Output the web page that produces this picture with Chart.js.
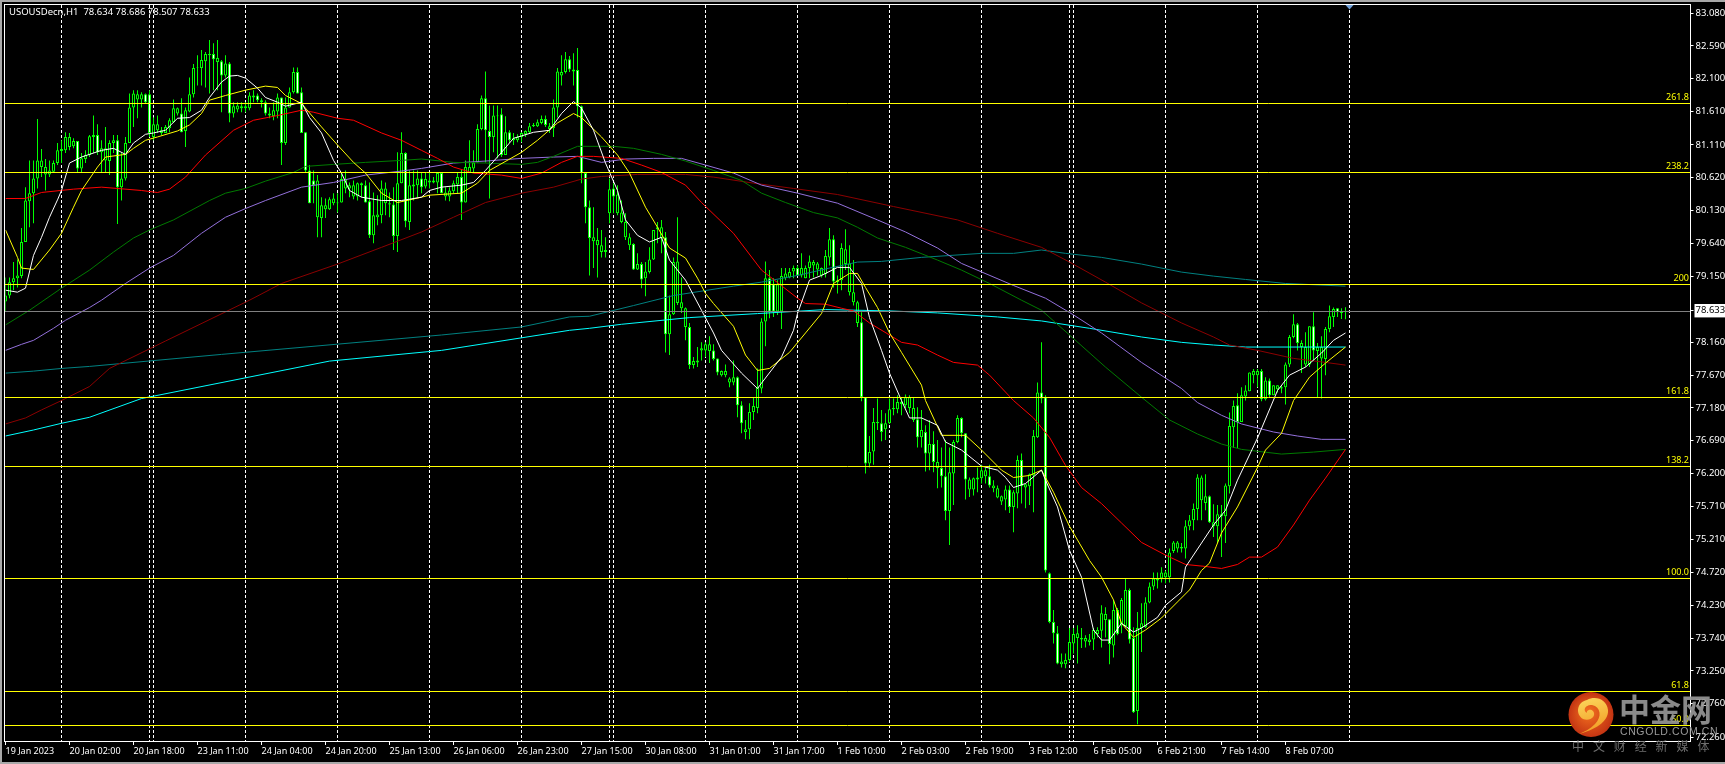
<!DOCTYPE html>
<html><head><meta charset="utf-8">
<style>html,body{margin:0;padding:0;background:#000;overflow:hidden}canvas{display:block}</style>
<script src="https://cdn.jsdelivr.net/npm/chart.js@4"></script>
</head><body><canvas id="c" width="1725" height="764"></canvas>
<script>
const symbolText = "USOUSDecn,H1  78.634 78.686 78.507 78.633";
const timeLabels = ["19 Jan 2023","20 Jan 02:00","20 Jan 18:00","23 Jan 11:00","24 Jan 04:00","24 Jan 20:00","25 Jan 13:00","26 Jan 06:00","26 Jan 23:00","27 Jan 15:00","30 Jan 08:00","31 Jan 01:00","31 Jan 17:00","1 Feb 10:00","2 Feb 03:00","2 Feb 19:00","3 Feb 12:00","6 Feb 05:00","6 Feb 21:00","7 Feb 14:00","8 Feb 07:00"];
const barsPerTimeLabel = 16;
const sessionBreakBars = [14,36,37,60,83,106,129,151,152,175,198,221,244,266,267,290,313,336];
const priceTicks = [83.08,82.59,82.10,81.61,81.11,80.62,80.13,79.64,79.15,78.633,78.16,77.67,77.18,76.69,76.20,75.71,75.21,74.72,74.23,73.74,73.25,72.76,72.26];
const lastPrice = 78.633;
const levelValues = [81.735,80.703,79.029,77.34,76.309,74.635,72.945,72.437];
const levelLabels = ["261.8","238.2","200","161.8","138.2","100.0","61.8","50.0"];

const highs = [79.13,79.13,79.36,79.40,79.87,80.48,80.88,80.88,81.50,81.05,80.90,80.88,80.88,81.14,81.18,81.30,81.29,81.21,81.17,80.99,81.03,81.26,81.55,81.42,81.18,81.38,81.18,81.26,81.26,80.99,81.23,81.88,81.93,81.93,81.90,81.88,81.93,81.52,81.55,81.38,81.41,81.51,81.79,81.67,81.81,81.67,82.12,82.32,82.45,82.53,82.50,82.68,82.63,82.68,82.38,82.45,82.35,81.75,81.75,81.75,81.75,81.90,81.93,81.88,81.81,81.78,81.67,81.75,81.88,81.82,81.82,81.97,82.27,82.27,81.97,81.30,80.81,80.73,80.66,80.33,80.31,80.33,80.39,80.39,80.69,80.73,80.55,80.58,80.55,80.55,80.58,80.55,80.40,80.36,80.58,80.55,80.40,80.48,81.00,81.30,81.00,80.73,80.73,80.73,80.69,80.69,80.69,80.63,80.70,80.70,80.48,80.48,80.58,80.70,80.75,80.88,81.18,81.03,81.42,81.85,82.21,81.70,81.70,81.70,81.66,81.54,81.33,81.29,81.27,81.30,81.33,81.44,81.44,81.49,81.55,81.55,81.44,81.79,82.26,82.45,82.50,82.44,82.48,82.56,81.70,80.69,80.28,80.18,79.87,79.84,79.73,80.61,80.54,80.51,80.28,80.09,79.79,79.64,79.49,79.36,79.36,79.58,79.84,79.96,79.99,79.81,78.86,79.43,80.03,79.13,78.68,78.45,77.94,78.09,78.16,78.16,78.25,78.13,77.92,77.74,77.83,77.64,77.89,77.65,77.28,77.00,77.25,77.34,77.77,78.52,79.37,79.24,79.12,79.09,79.27,79.27,79.27,79.31,79.31,79.49,79.31,79.46,79.39,79.36,79.28,79.54,79.87,79.76,79.16,79.64,79.85,79.61,79.39,78.78,78.61,77.34,76.76,77.18,77.32,77.15,77.10,77.32,77.32,77.37,77.34,77.38,77.37,77.34,77.19,77.15,76.92,77.00,76.83,76.70,76.59,76.70,76.59,76.70,77.07,77.04,76.80,76.14,76.14,76.29,76.33,76.29,76.33,76.10,76.02,75.87,76.02,76.02,75.95,76.47,76.50,76.05,76.20,76.85,77.56,78.16,77.37,74.72,74.16,73.92,73.51,73.51,73.89,73.89,73.93,73.89,73.78,73.80,73.89,73.90,74.23,74.20,74.02,74.31,74.19,74.34,74.63,74.48,73.90,74.13,74.26,74.35,74.57,74.72,74.72,74.80,74.75,75.08,75.19,75.19,75.16,75.50,75.58,75.75,76.19,76.17,76.19,75.87,75.74,75.73,75.73,76.05,77.11,77.29,77.40,77.49,77.52,77.71,77.76,77.76,77.76,77.64,77.62,77.52,77.52,77.52,77.86,78.27,78.58,78.45,78.19,78.31,78.40,78.61,78.15,78.25,78.39,78.71,78.68,78.67,78.67,78.686];
const bodyTops = [78.86,79.06,79.12,79.16,79.66,80.28,80.39,80.61,80.88,80.88,80.78,80.73,80.84,81.03,81.05,81.23,81.23,81.17,81.17,80.91,80.96,81.24,81.26,81.26,81.06,81.06,81.14,81.18,81.18,80.61,81.14,81.67,81.88,81.87,81.87,81.87,81.87,81.42,81.42,81.33,81.38,81.48,81.66,81.66,81.58,81.63,81.87,82.26,82.27,82.38,82.47,82.47,82.47,82.41,82.36,82.33,82.33,81.69,81.70,81.69,81.69,81.85,81.85,81.85,81.78,81.75,81.58,81.63,81.82,81.82,81.67,81.90,82.20,82.20,81.90,81.30,80.73,80.58,80.58,80.21,80.21,80.30,80.31,80.25,80.60,80.60,80.51,80.51,80.54,80.54,80.51,80.27,80.06,80.07,80.46,80.46,80.24,80.22,80.54,80.99,80.99,80.51,80.52,80.61,80.61,80.60,80.58,80.58,80.69,80.69,80.40,80.43,80.54,80.63,80.63,80.78,80.78,80.85,81.35,81.81,81.81,81.32,81.55,81.55,81.57,81.30,81.30,81.21,81.23,81.29,81.32,81.39,81.41,81.45,81.50,81.50,81.39,81.67,82.21,82.20,82.39,82.39,82.24,82.23,81.69,80.69,80.18,79.73,79.69,79.61,79.54,80.45,80.46,80.37,80.10,79.96,79.73,79.63,79.33,79.33,79.22,79.40,79.84,79.88,79.88,79.73,78.58,79.36,79.37,78.76,78.67,78.39,77.88,77.89,78.07,78.13,78.13,78.04,77.92,77.73,77.73,77.62,77.64,77.64,77.22,76.86,77.12,77.21,77.49,78.47,79.12,79.12,79.03,79.03,79.15,79.19,79.21,79.27,79.27,79.27,79.27,79.37,79.36,79.34,79.27,79.45,79.70,79.70,79.09,79.57,79.55,79.34,78.91,78.76,78.46,77.34,76.52,76.97,76.97,76.95,76.95,77.16,77.18,77.27,77.27,77.34,77.34,77.18,77.01,76.85,76.82,76.64,76.64,76.37,76.28,76.16,76.22,76.67,77.03,77.03,76.80,76.11,76.13,76.14,76.25,76.25,76.16,76.02,75.98,75.86,75.96,75.96,75.92,76.40,76.40,76.04,76.19,76.76,77.41,77.41,77.34,74.71,73.98,73.81,73.39,73.41,73.68,73.80,73.81,73.74,73.74,73.72,73.86,73.86,74.11,74.10,74.02,74.16,74.16,74.31,74.46,74.46,73.74,73.89,73.96,74.27,74.51,74.63,74.63,74.72,74.72,75.02,75.17,75.17,75.10,75.41,75.50,75.67,76.14,76.14,75.86,75.86,75.47,75.59,75.59,76.02,76.91,77.21,77.22,77.37,77.44,77.71,77.73,77.73,77.73,77.59,77.59,77.52,77.52,77.49,77.83,78.24,78.43,78.43,78.15,78.09,78.40,78.40,78.09,78.09,78.36,78.55,78.66,78.67,78.63,78.634];
const bodyBottoms = [78.77,78.86,79.06,79.12,79.15,79.66,80.27,80.39,80.61,80.78,80.67,80.67,80.71,80.84,81.02,81.03,81.08,81.09,80.76,80.76,80.90,80.96,81.23,81.00,81.00,80.88,80.87,81.14,80.48,80.48,80.61,81.14,81.67,81.79,81.79,81.75,81.29,81.23,81.33,81.29,81.29,81.36,81.45,81.58,81.30,81.32,81.61,81.87,82.26,82.26,82.36,82.45,82.39,82.35,82.15,82.15,81.58,81.58,81.64,81.66,81.66,81.66,81.82,81.78,81.75,81.58,81.55,81.54,81.61,81.14,81.14,81.67,81.90,81.88,81.29,80.73,80.24,80.51,80.03,80.02,80.15,80.15,80.24,80.24,80.25,80.46,80.46,80.34,80.34,80.51,80.25,79.76,79.76,80.03,80.06,80.24,80.22,79.75,79.75,80.54,79.97,79.96,80.49,80.51,80.48,80.49,80.55,80.55,80.55,80.39,80.34,80.34,80.42,80.52,80.25,80.25,80.69,80.76,80.85,81.35,81.33,81.23,81.23,81.54,80.96,80.96,81.18,81.18,81.18,81.23,81.27,81.30,81.39,81.39,81.44,81.41,81.35,81.36,81.67,82.15,82.20,82.24,82.21,81.69,80.69,80.18,79.72,79.67,79.61,79.51,79.51,80.09,80.34,80.09,79.96,79.73,79.61,79.25,79.25,79.10,79.12,79.21,79.40,79.85,79.72,78.28,78.28,78.58,78.75,78.67,78.39,77.82,77.82,77.86,78.04,78.04,78.03,77.91,77.71,77.67,77.67,77.56,77.56,77.22,76.95,76.82,76.86,77.12,77.18,77.47,78.47,78.62,78.62,78.62,78.62,79.12,79.13,79.22,79.16,79.16,79.12,79.27,79.31,79.25,79.16,79.18,79.43,79.07,79.06,79.09,79.33,78.91,78.76,78.45,77.34,76.35,76.35,76.53,76.95,76.82,76.86,76.95,77.16,77.16,77.24,77.22,77.18,77.00,76.74,76.74,76.50,76.50,76.37,76.28,76.16,75.64,75.64,76.20,76.67,76.80,76.11,75.96,75.96,76.11,76.13,76.16,76.02,75.98,75.84,75.78,75.81,75.70,75.70,75.90,76.01,75.99,76.01,76.17,76.74,77.32,74.75,73.98,73.81,73.36,73.35,73.35,73.41,73.66,73.74,73.72,73.69,73.68,73.72,73.80,73.85,74.01,73.65,73.63,73.80,73.93,73.92,73.72,72.63,72.65,73.89,73.90,74.27,74.51,74.60,74.63,74.65,74.65,75.04,75.08,75.08,75.08,75.41,75.50,75.67,75.80,75.76,75.47,75.41,75.41,75.56,75.56,76.01,76.89,76.97,76.97,77.35,77.43,77.67,77.67,77.31,77.31,77.37,77.37,77.46,77.47,77.49,77.83,78.24,78.15,78.09,77.83,77.83,78.04,78.03,77.92,77.91,78.36,78.54,78.61,78.60,78.633];
const lows = [78.62,78.82,78.94,78.98,79.12,79.66,79.88,79.94,80.46,80.63,80.43,80.63,80.69,80.81,80.84,80.99,81.03,81.06,80.70,80.69,80.84,80.93,80.99,80.96,80.70,80.69,80.66,80.99,79.93,80.28,80.58,81.14,81.38,81.51,81.67,81.73,81.23,81.18,81.29,81.26,81.29,81.30,81.44,81.55,81.30,81.08,81.60,81.82,82.00,82.00,81.97,81.88,81.93,81.93,81.60,82.12,81.45,81.52,81.60,81.60,81.60,81.63,81.75,81.75,81.67,81.55,81.51,81.48,81.51,80.81,81.11,81.67,81.88,81.88,81.29,80.69,80.24,80.24,79.73,79.73,80.02,80.14,80.21,80.10,80.25,80.39,80.33,80.30,80.28,80.33,80.25,79.72,79.64,79.91,79.94,80.06,80.03,79.54,79.51,80.54,79.88,79.84,80.28,80.33,80.39,80.46,80.46,80.54,80.39,80.39,80.28,80.27,80.39,80.39,79.99,80.25,80.69,80.69,80.85,81.33,80.85,80.31,81.00,80.91,80.93,80.96,81.14,81.11,81.15,81.15,81.23,81.29,81.38,81.38,81.42,81.38,81.29,81.23,81.52,82.00,82.18,82.20,82.00,81.52,80.54,79.94,79.16,79.27,79.13,79.43,79.43,79.94,80.09,80.06,79.94,79.69,79.54,79.24,79.24,78.97,78.85,79.19,79.39,79.64,79.49,78.01,77.97,78.57,78.72,78.60,78.19,77.76,77.77,77.79,77.89,77.94,77.85,77.89,77.67,77.65,77.64,77.49,77.52,77.04,76.80,76.71,76.71,77.00,77.10,77.40,78.10,78.52,78.54,78.57,78.36,79.09,79.12,79.12,79.15,79.13,79.12,79.12,79.13,79.16,79.13,79.13,79.31,78.98,78.89,78.94,79.24,78.86,78.71,78.39,77.28,76.20,76.29,76.33,76.85,76.68,76.70,76.94,77.07,77.10,77.07,77.18,77.10,76.97,76.59,76.59,76.23,76.25,76.22,75.98,75.99,75.50,75.13,75.73,76.65,76.74,75.81,75.85,75.87,75.92,76.05,76.05,75.99,75.92,75.83,75.73,75.65,75.61,75.32,75.68,75.75,75.68,75.73,75.62,76.73,77.25,74.72,73.96,73.66,73.35,73.30,73.29,73.38,73.51,73.36,73.59,73.60,73.63,73.56,73.75,73.60,73.75,73.35,73.45,73.78,73.81,73.90,73.66,72.62,72.45,73.53,73.89,74.26,74.46,74.48,74.57,74.56,74.57,75.01,75.02,75.02,74.93,75.35,75.35,75.50,75.50,75.65,75.46,75.25,75.16,74.95,75.16,75.90,76.58,76.58,76.97,77.29,77.43,77.55,77.49,77.28,77.29,77.34,77.37,77.41,77.40,77.23,77.79,78.22,78.04,77.70,77.79,77.79,77.89,77.34,77.32,77.67,78.31,78.39,78.54,78.51,78.507];
const bearishBars = [18,23,28,35,36,44,52,54,56,63,65,69,73,74,75,76,77,90,91,97,100,104,109,114,120,121,124,126,135,141,143,144,145,146,152,157,159,165,171,177,178,183,184,191,192,198,207,214,215,219,228,230,232,234,235,239,240,246,251,254,259,260,261,262,263,276,278,281,282,301,308,314,316,323,327,333];

const maWhite = [[0,78.94],[3,78.91],[5,78.97],[7,79.46],[9,79.73],[11,80.03],[13,80.29],[14,80.43],[16,80.84],[19,80.93],[24,81.03],[27,81.06],[30,80.97],[32,81.14],[35,81.27],[37,81.29],[40,81.33],[43,81.51],[46,81.52],[49,81.63],[51,81.82],[54,82.05],[56,82.14],[58,82.15],[60,82.11],[63,81.96],[65,81.82],[68,81.75],[70,81.69],[74,81.75],[76,81.52],[79,81.29],[82,80.88],[84,80.69],[86,80.43],[89,80.33],[94,80.28],[99,80.28],[104,80.33],[106,80.43],[109,80.48],[114,80.51],[117,80.55],[120,80.73],[124,81.00],[127,81.21],[132,81.30],[136,81.33],[139,81.58],[142,81.76],[144,81.66],[147,81.33],[150,80.84],[153,80.43],[155,79.99],[158,79.76],[161,79.66],[164,79.73],[166,79.39],[170,79.09],[174,78.64],[177,78.30],[179,78.04],[184,77.70],[188,77.47],[189,77.55],[194,77.94],[197,78.34],[198,78.59],[201,79.09],[204,79.16],[208,79.28],[211,79.28],[214,79.04],[216,78.53],[219,78.04],[221,77.70],[224,77.29],[226,77.03],[229,77.03],[233,76.92],[235,76.67],[239,76.55],[244,76.31],[248,76.25],[250,76.14],[252,75.99],[255,76.05],[259,76.25],[260,76.10],[263,75.70],[266,75.05],[269,74.65],[272,73.86],[274,73.71],[276,73.71],[279,73.96],[282,73.83],[284,73.89],[288,74.05],[290,74.23],[294,74.43],[295,74.80],[299,75.16],[302,75.43],[305,75.65],[308,76.10],[313,76.73],[318,77.44],[321,77.67],[325,77.79],[329,78.00],[332,78.19],[335,78.30]];
const maYellow = [[0,79.84],[3,79.43],[4,79.27],[7,79.25],[11,79.54],[14,79.79],[17,80.18],[19,80.43],[23,80.78],[25,80.93],[30,80.97],[32,81.06],[35,81.18],[38,81.23],[43,81.32],[46,81.41],[49,81.58],[51,81.78],[55,81.85],[60,81.93],[65,81.99],[68,81.97],[70,81.85],[74,81.73],[79,81.38],[83,81.11],[87,80.85],[90,80.69],[94,80.39],[98,80.25],[104,80.33],[106,80.36],[114,80.39],[118,80.54],[121,80.73],[129,81.00],[133,81.18],[138,81.44],[142,81.58],[144,81.52],[149,81.23],[153,80.96],[156,80.69],[160,80.18],[163,79.88],[166,79.57],[170,79.42],[173,79.12],[175,78.89],[177,78.74],[182,78.40],[185,77.97],[188,77.74],[191,77.77],[196,78.01],[200,78.30],[204,78.59],[207,79.04],[211,79.19],[213,79.19],[215,78.98],[218,78.68],[221,78.30],[224,78.01],[229,77.52],[230,77.29],[234,76.77],[240,76.77],[244,76.55],[249,76.25],[252,76.14],[256,76.17],[259,76.25],[262,75.92],[266,75.41],[271,74.90],[274,74.65],[277,74.31],[279,73.96],[282,73.75],[285,73.86],[289,74.04],[293,74.28],[296,74.46],[299,74.75],[301,74.86],[304,75.31],[308,75.70],[313,76.29],[315,76.55],[319,76.80],[322,77.29],[326,77.64],[330,77.85],[335,78.09]];
const maRed = [[0,80.31],[5,80.31],[9,80.40],[17,80.45],[24,80.48],[34,80.43],[38,80.40],[41,80.45],[45,80.63],[50,80.96],[57,81.33],[62,81.48],[68,81.55],[74,81.63],[77,81.60],[83,81.51],[87,81.48],[94,81.29],[99,81.18],[104,81.03],[108,80.91],[112,80.78],[117,80.69],[124,80.66],[129,80.61],[134,80.69],[139,80.85],[143,80.94],[147,80.94],[154,80.91],[159,80.81],[164,80.70],[170,80.51],[174,80.25],[182,79.79],[189,79.24],[198,78.82],[200,78.74],[205,78.73],[209,78.67],[212,78.63],[216,78.45],[221,78.27],[224,78.16],[228,78.12],[233,77.97],[237,77.86],[243,77.82],[246,77.67],[252,77.29],[257,77.03],[261,76.74],[265,76.32],[269,75.99],[274,75.75],[279,75.46],[284,75.17],[290,74.98],[295,74.84],[300,74.81],[304,74.78],[308,74.84],[311,74.95],[314,74.95],[318,75.10],[322,75.43],[326,75.80],[330,76.13],[335,76.56]];
const maGreen = [[0,78.42],[6,78.64],[14,78.97],[21,79.24],[27,79.51],[32,79.72],[36,79.84],[42,79.99],[51,80.28],[55,80.39],[60,80.46],[65,80.57],[72,80.70],[75,80.79],[82,80.82],[90,80.85],[99,80.88],[104,80.90],[112,80.85],[120,80.84],[129,80.82],[133,80.85],[137,80.94],[143,81.09],[152,81.09],[157,81.06],[164,80.97],[170,80.87],[177,80.73],[184,80.58],[189,80.39],[195,80.25],[202,80.10],[208,80.02],[213,79.88],[218,79.72],[225,79.58],[233,79.39],[239,79.24],[246,79.04],[254,78.79],[259,78.64],[266,78.27],[275,77.79],[284,77.34],[291,77.00],[298,76.79],[304,76.64],[309,76.56],[319,76.49],[327,76.52],[335,76.56]];
const maPurple = [[0,78.04],[4,78.13],[7,78.19],[12,78.37],[15,78.49],[21,78.68],[24,78.79],[30,79.04],[36,79.27],[42,79.46],[49,79.79],[55,80.03],[60,80.16],[65,80.28],[74,80.48],[82,80.55],[90,80.66],[99,80.72],[104,80.76],[112,80.84],[120,80.87],[129,80.91],[137,80.93],[143,80.94],[149,80.85],[155,80.90],[162,80.91],[169,80.91],[175,80.81],[182,80.69],[189,80.51],[198,80.39],[208,80.24],[218,79.99],[225,79.81],[233,79.57],[239,79.34],[252,79.01],[260,78.82],[267,78.57],[274,78.30],[284,77.86],[294,77.47],[298,77.26],[304,77.07],[309,76.94],[317,76.82],[323,76.76],[329,76.71],[335,76.71]];
const maDarkRed = [[0,76.94],[5,77.03],[9,77.15],[14,77.29],[21,77.50],[26,77.77],[40,78.18],[61,78.79],[69,79.04],[83,79.33],[94,79.58],[104,79.81],[112,80.03],[120,80.25],[129,80.39],[137,80.48],[144,80.60],[149,80.64],[158,80.67],[170,80.67],[177,80.63],[187,80.54],[197,80.46],[208,80.37],[222,80.19],[238,79.99],[248,79.79],[259,79.58],[266,79.36],[275,79.06],[284,78.75],[294,78.45],[302,78.24],[306,78.12],[313,78.04],[322,77.92],[330,77.86],[335,77.82]];
const maTeal = [[0,77.70],[7,77.73],[14,77.77],[21,77.80],[54,77.98],[109,78.27],[129,78.39],[141,78.54],[146,78.55],[157,78.71],[167,78.86],[182,79.00],[189,79.06],[198,79.16],[206,79.27],[213,79.36],[219,79.37],[229,79.43],[244,79.49],[252,79.49],[259,79.54],[265,79.49],[274,79.43],[284,79.33],[294,79.21],[302,79.15],[310,79.10],[320,79.04],[335,79.00]];
const maCyan = [[0,76.76],[7,76.85],[14,76.95],[21,77.04],[34,77.32],[81,77.88],[109,78.04],[141,78.34],[146,78.37],[154,78.43],[171,78.53],[188,78.59],[205,78.65],[221,78.63],[233,78.60],[248,78.54],[259,78.48],[271,78.37],[284,78.24],[294,78.16],[302,78.12],[310,78.09],[335,78.09]];

const bearSet = new Set(bearishBars);
const wickData = highs.map((h,i)=>({x:i,y:[lows[i],h]}));
const bodyData = bodyTops.map((t,i)=>({x:i,y:[bodyBottoms[i],t]}));
const bodyFill = bodyTops.map((_,i)=>bearSet.has(i)?'#ffffff':'#000000');
const maSet = (pairs,color)=>({type:'line',data:pairs.map(p=>({x:p[0],y:p[1]})),borderColor:color,borderWidth:1,pointRadius:0,tension:0,order:1,parsing:true});
const FONT = '"Noto Sans"';

const decor = {
  id:'decor',
  beforeDatasetsDraw(ch){
    const c=ch.ctx,x=ch.scales.x,a=ch.chartArea;
    c.save();c.strokeStyle='#fff';c.lineWidth=1;c.setLineDash([3,2]);
    sessionBreakBars.forEach(b=>{const px=Math.floor(x.getPixelForValue(b))+0.5;c.beginPath();c.moveTo(px,a.top);c.lineTo(px,a.bottom);c.stroke();});
    c.restore();
  },
  afterDatasetsDraw(ch){
    const c=ch.ctx,y=ch.scales.y;
    c.save();
    c.lineWidth=1;
    const lx0=5,lx1=1690;
    c.strokeStyle='#808080';
    let py=Math.round(y.getPixelForValue(lastPrice))+0.5;
    c.beginPath();c.moveTo(lx0,py);c.lineTo(lx1,py);c.stroke();
    c.strokeStyle='#ffff00';c.fillStyle='#ffff00';
    c.font='9px '+FONT;c.textAlign='right';c.textBaseline='middle';
    levelValues.forEach((v,i)=>{
      py=Math.round(y.getPixelForValue(v))+0.5;
      c.beginPath();c.moveTo(lx0,py);c.lineTo(lx1,py);c.stroke();
      c.fillText(levelLabels[i],1689,py-6);
    });
    c.restore();
  },
  afterDraw(ch){
    const c=ch.ctx;
    c.save();
    c.fillStyle='#a8a8a8';
    c.fillRect(0,0,1725,2);c.fillRect(0,0,2,764);c.fillRect(0,762,1725,2);
    c.strokeStyle='#fff';c.lineWidth=1;
    c.strokeRect(4.5,4.5,1686,737);
    c.fillStyle='#fff';c.font='9.5px '+FONT;c.textAlign='left';c.textBaseline='middle';
    c.fillText(symbolText,9,12.5);
    c.fillStyle='#6f9fd8';
    c.beginPath();c.moveTo(1345.5,5);c.lineTo(1353.5,5);c.lineTo(1349.5,9.5);c.closePath();c.fill();
    const g=c.createRadialGradient(1588,712,3,1591,715,23);
    g.addColorStop(0,'#ee6a1e');g.addColorStop(1,'#c23212');
    c.fillStyle=g;c.beginPath();c.arc(1591,714.5,22.5,0,Math.PI*2);c.fill();
    const s=c.createLinearGradient(1580,700,1590,735);
    s.addColorStop(0,'#fbd45a');s.addColorStop(1,'#f29a22');
    c.fillStyle=s;c.beginPath();
    c.moveTo(1579,734);c.bezierCurveTo(1594,730,1609,722,1608,710);
    c.bezierCurveTo(1607,700,1596,695,1587,700);
    c.bezierCurveTo(1577,702,1575,714,1583,719);
    c.bezierCurveTo(1590,722,1597,716,1593,711);
    c.bezierCurveTo(1590,708,1586,711,1587,713);
    c.bezierCurveTo(1582,710,1586,704,1592,705);
    c.bezierCurveTo(1601,707,1602,717,1595,724);
    c.bezierCurveTo(1590,729,1584,732,1579,734);c.closePath();c.fill();
    c.fillStyle='rgba(150,150,150,0.92)';c.textAlign='left';c.textBaseline='middle';
    c.font='bold 31px "Noto Sans CJK SC"';c.fillText('中金网',1619,709);
    c.fillStyle='#9a9a9a';c.font='10.5px "Liberation Sans"';c.letterSpacing='0.6px';
    c.fillText('CNGOLD.COM.CN',1620,732.5);c.letterSpacing='0px';
    c.fillStyle='#6e6e6e';c.font='12px "Noto Sans CJK SC"';
    ['中','文','财','经','新','媒','体'].forEach((t,i)=>c.fillText(t,1572+i*20.9,746));
    c.restore();
  }
};

new Chart(document.getElementById('c'),{
  type:'bar',
  plugins:[decor],
  data:{datasets:[
    maSet(maWhite,'#ffffff'),maSet(maYellow,'#ffff00'),maSet(maRed,'#ff0000'),
    maSet(maGreen,'#007a00'),maSet(maPurple,'#9370db'),maSet(maDarkRed,'#8b0000'),
    maSet(maTeal,'#008080'),maSet(maCyan,'#00ffff'),
    {type:'bar',data:bodyData,backgroundColor:bodyFill,borderColor:'#00ff00',borderWidth:1,borderSkipped:false,barThickness:3,grouped:false,inflateAmount:0,order:5},
    {type:'bar',data:wickData,backgroundColor:'#00ff00',borderWidth:0,barThickness:1,grouped:false,inflateAmount:0,order:6}
  ]},
  options:{
    responsive:false,animation:false,devicePixelRatio:1,
    layout:{padding:{left:5.5,top:5,right:0,bottom:0}},
    plugins:{legend:{display:false},tooltip:{enabled:false},title:{display:false}},
    scales:{
      x:{type:'linear',position:'bottom',offset:false,min:0,max:421,
        grid:{display:true,offset:false,drawOnChartArea:false,drawTicks:true,tickLength:4,color:'#fff'},
        border:{display:false},
        afterBuildTicks(s){s.ticks=timeLabels.map((_,k)=>({value:k*barsPerTimeLabel}));},
        afterFit(s){s.height=23;s.paddingLeft=0;s.paddingRight=0;},
        ticks:{autoSkip:false,maxRotation:0,minRotation:0,align:'start',padding:1,color:'#ffffff',font:{family:FONT,size:9},
          callback(v){return timeLabels[Math.round(v/barsPerTimeLabel)];}}
      },
      y:{type:'linear',position:'right',min:72.2011,max:83.2026,
        grid:{display:true,drawOnChartArea:false,drawTicks:true,tickLength:4,color:'#fff'},
        border:{display:false},
        afterBuildTicks(s){s.ticks=priceTicks.map(v=>({value:v}));},
        afterFit(s){s.width=35.5;s.paddingTop=0;s.paddingBottom=0;},
        ticks:{autoSkip:false,padding:2,font:{family:FONT,size:9.5},
          color(ctx){return ctx.tick&&ctx.tick.value===lastPrice?'#000':'#fff';},
          showLabelBackdrop(ctx){return !!(ctx.tick&&ctx.tick.value===lastPrice);},
          backdropColor:'#fff',backdropPadding:{top:1,bottom:1,left:1,right:2},
          callback(v){return v.toFixed(3);}}
      }
    }
  }
});
</script></body></html>
